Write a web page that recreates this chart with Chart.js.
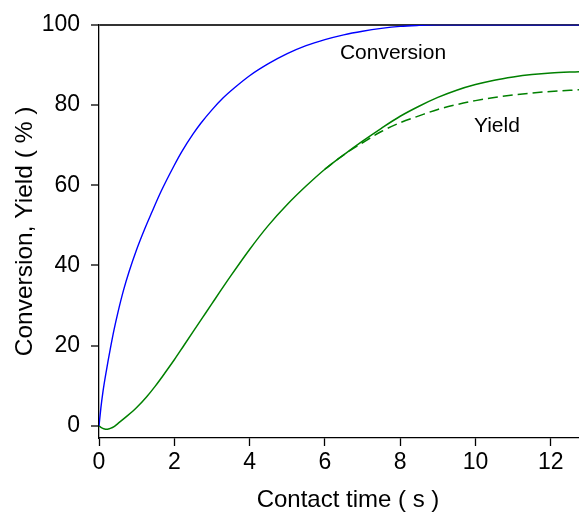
<!DOCTYPE html>
<html>
<head>
<meta charset="utf-8">
<script src="https://cdn.jsdelivr.net/npm/chart.js@4.4.0/dist/chart.umd.min.js"></script>
<style>
  html, body { margin: 0; padding: 0; background: #fff; }
  #wrap { width: 579px; height: 519px; }
</style>
</head>
<body>
<div id="wrap"><canvas id="c" width="579" height="519"></canvas></div>
<script>
// values
var convTime   = [0, 0.05, 0.1, 0.2, 0.3, 0.4, 0.5, 0.65, 0.8, 1, 1.2, 1.4, 1.65, 2, 2.2, 2.5, 2.7, 3, 3.3, 3.6, 4, 4.5, 5, 5.5, 6, 6.5, 7, 7.5, 8, 8.5, 9, 10, 12.75];
var conversion = [0, 4.5, 8.2, 14, 19.2, 24, 28.2, 33.8, 38.5, 44, 48.8, 53.2, 58.5, 65, 68.4, 72.8, 75.4, 78.8, 81.8, 84.3, 87.3, 90.3, 92.8, 94.8, 96.3, 97.5, 98.4, 99.1, 99.6, 99.85, 100, 100, 100];

var yieldTime  = [0, 0.05, 0.1, 0.15, 0.2, 0.25, 0.3, 0.4, 0.5, 0.75, 1, 1.25, 1.5, 1.75, 2, 2.25, 2.5, 2.75, 3, 3.5, 4, 4.5, 5, 5.5, 6, 6.5, 7, 7.5, 8, 8.5, 9, 9.5, 10, 10.5, 11, 11.5, 12, 12.75];
var yieldSolid = [0, -0.35, -0.6, -0.75, -0.8, -0.75, -0.6, -0.15, 0.6, 2.5, 4.6, 7.1, 10, 13.2, 16.5, 20, 23.5, 27, 30.5, 37.4, 44, 50, 55.2, 59.8, 64, 67.6, 71, 74.2, 77.2, 79.7, 81.9, 83.7, 85.1, 86.2, 87, 87.6, 88, 88.3];

var dashTime    = [6, 6.5, 7, 7.5, 8, 8.5, 9, 9.5, 10, 10.5, 11, 11.5, 12, 12.75];
var yieldDashed = [64, 67.6, 70.6, 73.4, 75.6, 77.3, 78.9, 80.1, 81.1, 81.9, 82.5, 83, 83.4, 83.8];

var xTicks = [0, 2, 4, 6, 8, 10, 12];
var yTicks = [0, 20, 40, 60, 80, 100];

var curveLabels = [
  { text: "Conversion", x: 7.81, y: 93 },
  { text: "Yield", x: 10.57, y: 74.7 }
];
var xTitle = "Contact time ( s )";

var fam = "'Liberation Sans', Arial, sans-serif";

function pts(xs, ys) {
  return xs.map(function (x, i) { return { x: x, y: ys[i] }; });
}

var textPlugin = {
  id: "textPlugin",
  afterDraw: function (chart) {
    var ctx = chart.ctx, sx = chart.scales.x, sy = chart.scales.y;
    ctx.save();
    ctx.fillStyle = "#000";
    ctx.textAlign = "center";
    ctx.textBaseline = "middle";
    ctx.font = "21px " + fam;
    curveLabels.forEach(function (l) {
      ctx.fillText(l.text, sx.getPixelForValue(l.x), sy.getPixelForValue(l.y));
    });
    // x title sits a bit right of the plot centre in the original
    ctx.font = "24px " + fam;
    ctx.fillText(xTitle, (chart.chartArea.left + chart.chartArea.right) / 2 + 9, 500);
    ctx.restore();
  }
};

new Chart(document.getElementById("c"), {
  type: "line",
  data: {
    datasets: [
      { data: pts(convTime, conversion), borderColor: "#0000ff", borderWidth: 1.4 },
      { data: pts(yieldTime, yieldSolid), borderColor: "#008000", borderWidth: 1.5 },
      { data: pts(dashTime, yieldDashed), borderColor: "#008000", borderWidth: 1.5, borderDash: [10, 5] }
    ]
  },
  options: {
    responsive: false,
    animation: false,
    layout: { padding: { top: 23, right: 0, bottom: 0, left: 0 } },
    elements: { point: { radius: 0 }, line: { cubicInterpolationMode: "monotone" } },
    plugins: { legend: { display: false }, tooltip: { enabled: false } },
    scales: {
      x: {
        type: "linear",
        min: 0,
        max: 12.75,
        afterBuildTicks: function (s) { s.ticks = xTicks.map(function (v) { return { value: v }; }); },
        afterFit: function (s) { s.height = 81; },
        border: { color: "#000", width: 1.3 },
        grid: { drawOnChartArea: false, color: "#000", tickLength: 8, tickWidth: 1.3 },
        ticks: { color: "#000", font: { family: fam, size: 23 }, padding: 3, maxRotation: 0 }
      },
      y: {
        min: -3,
        max: 100,
        afterBuildTicks: function (s) { s.ticks = yTicks.map(function (v) { return { value: v }; }); },
        afterFit: function (s) { s.width = 99; },
        border: { color: "#000", width: 1.3 },
        grid: {
          drawOnChartArea: true,
          color: function (c) { return c.tick && c.tick.value === 100 ? "#333" : "rgba(0,0,0,0)"; },
          lineWidth: 2,
          tickColor: "#000",
          tickLength: 8,
          tickWidth: 1.3
        },
        ticks: { color: "#000", font: { family: fam, size: 23 }, padding: 11 },
        title: { display: true, text: "Conversion, Yield ( % )", color: "#000", font: { family: fam, size: 24.5 }, padding: { top: 11, bottom: 0 } }
      }
    }
  },
  plugins: [textPlugin]
});
</script>
</body>
</html>
